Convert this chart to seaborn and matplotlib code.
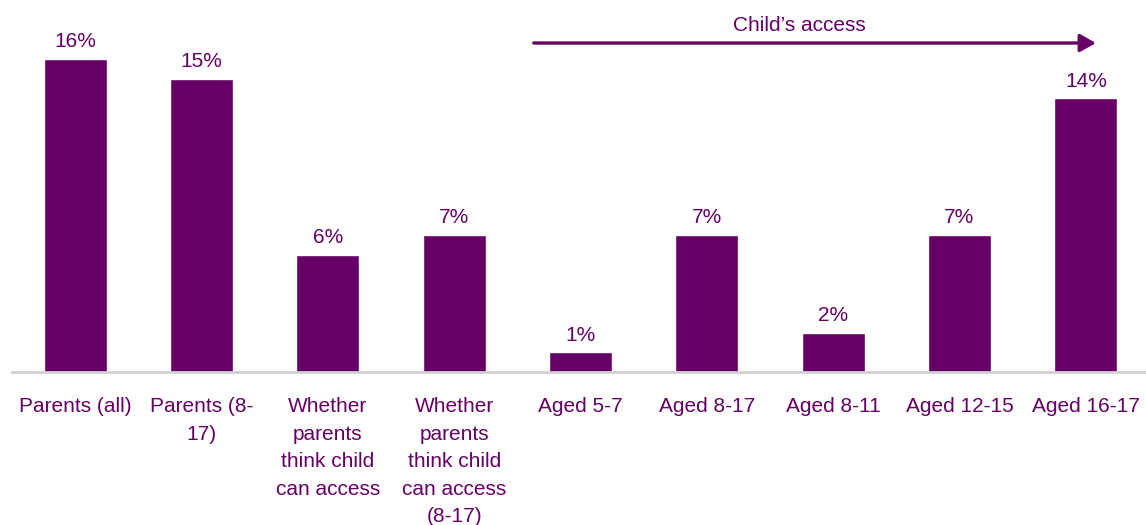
import matplotlib
matplotlib.use("Agg")
import matplotlib.pyplot as plt
import seaborn as sns
import pandas as pd

categories = [
    "Parents (all)",
    "Parents (8-\n17)",
    "Whether\nparents\nthink child\ncan access",
    "Whether\nparents\nthink child\ncan access\n(8-17)",
    "Aged 5-7",
    "Aged 8-17",
    "Aged 8-11",
    "Aged 12-15",
    "Aged 16-17",
]
values = [16, 15, 6, 7, 1, 7, 2, 7, 14]
value_labels = ["16%", "15%", "6%", "7%", "1%", "7%", "2%", "7%", "14%"]
arrow_label = "Child\u2019s access"

PURPLE = "#660066"
FS = 15

sns.set_theme(style="white")
plt.rcParams["font.family"] = ["Liberation Sans", "DejaVu Sans"]

fig = plt.figure(figsize=(11.46, 5.25), dpi=100)
ax = fig.add_axes([12 / 1146, (525 - 372) / 525, 1137 / 1146, 372 / 525])

df = pd.DataFrame({"cat": categories, "val": values})
sns.barplot(data=df, x="cat", y="val", color=PURPLE, saturation=1, width=0.5, ax=ax)

ax.set_xlim(-0.5, 8.5)
ax.set_ylim(0, 19.03)

for i, (v, lab) in enumerate(zip(values, value_labels)):
    ax.text(i, v + 0.4, lab, ha="center", va="bottom", fontsize=FS, color=PURPLE)

# Arrow spanning the child-access groups
ax.annotate("", xy=(8.08, 16.83), xytext=(3.63, 16.83),
            arrowprops=dict(arrowstyle="-|>,head_length=0.8,head_width=0.45",
                            color=PURPLE, lw=2.4, shrinkA=0, shrinkB=0),
            annotation_clip=False)
ax.text(5.73, 17.75, arrow_label, ha="center", va="center", fontsize=FS, color=PURPLE)

ax.set_xlabel("")
ax.set_ylabel("")
ax.set_yticks([])
ax.tick_params(axis="x", length=0, pad=18, labelsize=FS, labelcolor=PURPLE)
for t in ax.get_xticklabels():
    t.set_linespacing(1.57)
    t.set_verticalalignment("top")

for s in ["top", "right", "left"]:
    ax.spines[s].set_visible(False)
ax.spines["bottom"].set_color("#D0D0D0")
ax.spines["bottom"].set_linewidth(2)

fig.savefig("out.png", dpi=100)
